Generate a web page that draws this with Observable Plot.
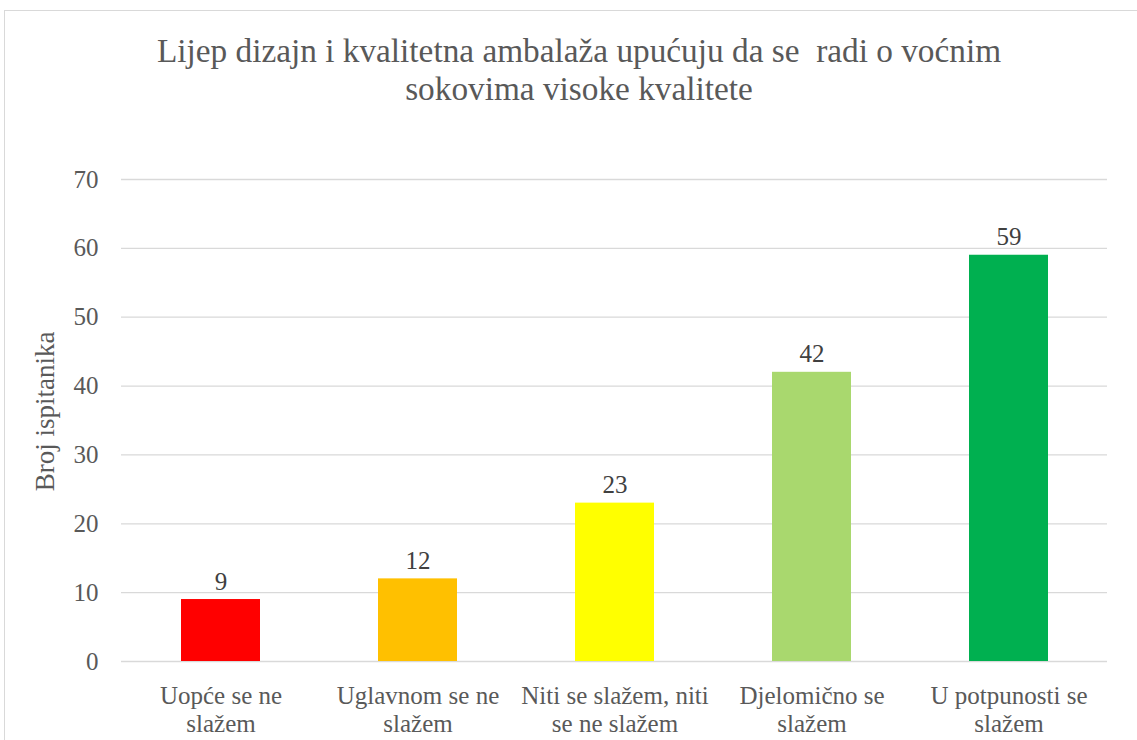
<!DOCTYPE html>
<html>
<head>
<meta charset="utf-8">
<script src="https://cdn.jsdelivr.net/npm/d3@7"></script>
<script src="https://cdn.jsdelivr.net/npm/@observablehq/plot@0.6"></script>
<style>
  html, body { margin: 0; padding: 0; background: #fff; overflow: hidden; width: 1137px; height: 740px; }
  #frame { position: absolute; left: 4px; top: 10px; width: 1300px; height: 900px; border: 1px solid #d9d9d9; box-sizing: border-box; }
  #title { position: absolute; left: 0; top: 32px; width: 1158px; text-align: center; font-family: "Liberation Serif", "DejaVu Serif", serif; font-size: 33.3px; line-height: 38px; color: #595959; white-space: nowrap; }
  #chart { position: absolute; left: 0; top: 140px; }
  svg { font-family: "Liberation Serif", "DejaVu Serif", serif; }
</style>
</head>
<body>
<div id="frame"></div>
<div id="title">Lijep dizajn i kvalitetna ambalaža upućuju da se&nbsp; radi o voćnim<br>sokovima visoke kvalitete</div>
<div id="chart"></div>
<script>
const categories = [
  "Uopće se ne\nslažem",
  "Uglavnom se ne\nslažem",
  "Niti se slažem, niti\nse ne slažem",
  "Djelomično se\nslažem",
  "U potpunosti se\nslažem"
];
const values = [9, 12, 23, 42, 59];
const colors = ["#FF0000", "#FFC000", "#FFFF00", "#A9D86E", "#00B050"];
const yTicks = [0, 10, 20, 30, 40, 50, 60, 70];
const yLabel = "Broj ispitanika";

const data = categories.map((c, i) => ({cat: c, value: values[i], color: colors[i]}));

const chart = Plot.plot({
  width: 1137,
  height: 600,
  marginLeft: 121,
  marginRight: 30,
  marginTop: 39,
  marginBottom: 79,
  style: {fontFamily: '"Liberation Serif", "DejaVu Serif", serif', color: "#595959", background: "transparent"},
  x: {domain: categories, paddingInner: 0.6, paddingOuter: 0.3, axis: null},
  y: {domain: [0, 70], ticks: yTicks, label: null, axis: null},
  marks: [
    Plot.gridY(yTicks, {stroke: "#d9d9d9", strokeOpacity: 1, strokeWidth: 1.3}),
    Plot.axisY(yTicks, {tickSize: 0, tickPadding: 23, fontSize: 25, fill: "#595959", label: null}),
    Plot.barY(data, {x: "cat", y: "value", fill: "color"}),
    Plot.text(data, {x: "cat", y: "value", text: d => String(d.value), dy: -18, fontSize: 25, fill: "#404040"}),
    Plot.text(data, {x: "cat", y: 0, text: "cat", dy: 23, lineAnchor: "top", lineHeight: 1.12, fontSize: 25, fill: "#595959"}),
    Plot.text([yLabel], {frameAnchor: "left", textAnchor: "middle", dx: -76, dy: -9, rotate: -90, text: d => d, fontSize: 27, fill: "#595959"})
  ]
});
document.getElementById("chart").appendChild(chart);
</script>
</body>
</html>
